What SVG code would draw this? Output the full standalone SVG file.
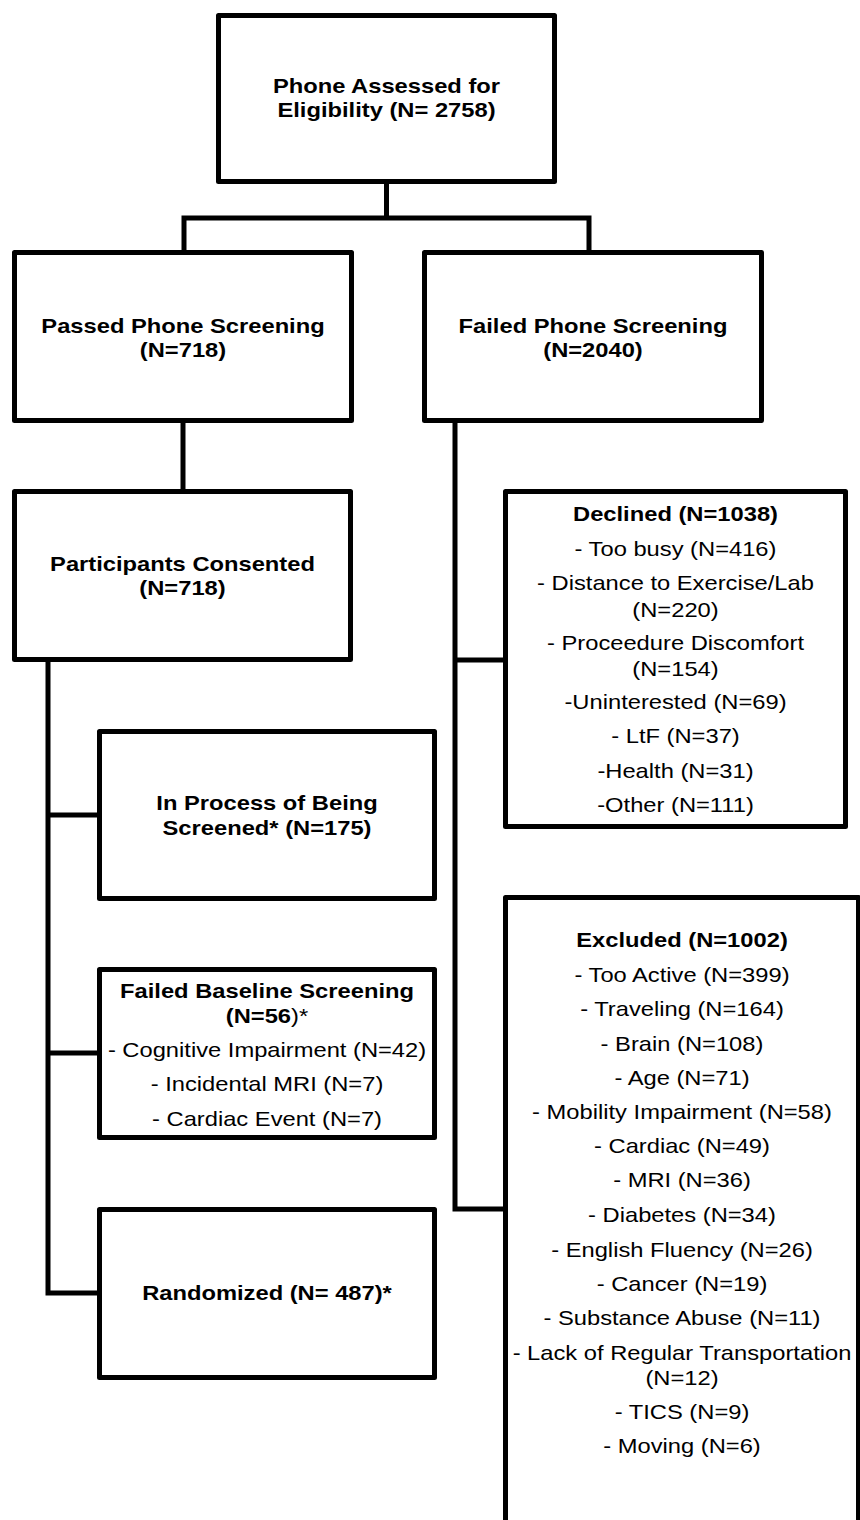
<svg xmlns="http://www.w3.org/2000/svg" width="860" height="1520" viewBox="0 0 860 1520">
<style>
.box{fill:#fff;stroke:#000;stroke-width:5;stroke-linejoin:round}
.con{fill:none;stroke:#000;stroke-width:5;stroke-linejoin:miter}
text{font-family:"Liberation Sans",Arial,sans-serif;font-size:21px;fill:#000;text-anchor:middle}
.b{font-weight:bold}
.n{font-weight:normal}
</style>
<rect width="860" height="1520" fill="#fff"/>
<g id="connectors">
<path class="con" d="M386.5,184 V218 M184,250 V218 H589 V250"/>
<path class="con" d="M183,423 V489"/>
<path class="con" d="M48,662 V1293 H97 M48,815 H97 M48,1053 H97"/>
<path class="con" d="M455,423 V1209 H503 M455,660 H503"/>
</g>
<g id="phone-assessed">
<rect class="box" x="218.5" y="15.5" width="336" height="166"/>
<text class="b" transform="translate(386.5 0) scale(1.13 1)"><tspan x="0" y="93">Phone Assessed for</tspan><tspan x="0" y="117">Eligibility (N= 2758)</tspan></text>
</g>
<g id="passed">
<rect class="box" x="14.5" y="252.5" width="337" height="168"/>
<text class="b" transform="translate(183 0) scale(1.13 1)"><tspan x="0" y="333">Passed Phone Screening</tspan><tspan x="0" y="357">(N=718)</tspan></text>
</g>
<g id="failed">
<rect class="box" x="424.5" y="252.5" width="337" height="168"/>
<text class="b" transform="translate(593 0) scale(1.13 1)"><tspan x="0" y="333">Failed Phone Screening</tspan><tspan x="0" y="357">(N=2040)</tspan></text>
</g>
<g id="consented">
<rect class="box" x="14.5" y="491.5" width="336" height="168"/>
<text class="b" transform="translate(182.5 0) scale(1.13 1)"><tspan x="0" y="571">Participants Consented</tspan><tspan x="0" y="595">(N=718)</tspan></text>
</g>
<g id="declined">
<rect class="box" x="505.5" y="491.5" width="340" height="335"/>
<text transform="translate(675.5 0) scale(1.13 1)"><tspan class="b" x="0" y="521">Declined (N=1038)</tspan><tspan x="0" y="556">- Too busy (N=416)</tspan><tspan x="0" y="590">- Distance to Exercise/Lab</tspan><tspan x="0" y="617">(N=220)</tspan><tspan x="0" y="650">- Proceedure Discomfort</tspan><tspan x="0" y="676">(N=154)</tspan><tspan x="0" y="709">-Uninterested (N=69)</tspan><tspan x="0" y="743">- LtF (N=37)</tspan><tspan x="0" y="778">-Health (N=31)</tspan><tspan x="0" y="812">-Other (N=111)</tspan></text>
</g>
<g id="in-process">
<rect class="box" x="99.5" y="731.5" width="335" height="167"/>
<text class="b" transform="translate(267 0) scale(1.13 1)"><tspan x="0" y="810">In Process of Being</tspan><tspan x="0" y="835">Screened* (N=175)</tspan></text>
</g>
<g id="failed-baseline">
<rect class="box" x="99.5" y="969.5" width="335" height="168"/>
<text transform="translate(267 0) scale(1.13 1)"><tspan class="b" x="0" y="998">Failed Baseline Screening</tspan><tspan x="0" y="1023"><tspan class="b">(N=56</tspan>)*</tspan><tspan x="0" y="1057">- Cognitive Impairment (N=42)</tspan><tspan x="0" y="1091">- Incidental MRI (N=7)</tspan><tspan x="0" y="1126">- Cardiac Event (N=7)</tspan></text>
</g>
<g id="randomized">
<rect class="box" x="99.5" y="1209.5" width="335" height="168"/>
<text class="b" transform="translate(267 0) scale(1.13 1)"><tspan x="0" y="1300">Randomized (N= 487)*</tspan></text>
</g>
<g id="excluded">
<rect class="box" x="505.5" y="897.5" width="353" height="700"/>
<text transform="translate(682 0) scale(1.13 1)"><tspan class="b" x="0" y="947">Excluded (N=1002)</tspan><tspan x="0" y="982">- Too Active (N=399)</tspan><tspan x="0" y="1016">- Traveling (N=164)</tspan><tspan x="0" y="1051">- Brain (N=108)</tspan><tspan x="0" y="1085">- Age (N=71)</tspan><tspan x="0" y="1119">- Mobility Impairment (N=58)</tspan><tspan x="0" y="1153">- Cardiac (N=49)</tspan><tspan x="0" y="1187">- MRI (N=36)</tspan><tspan x="0" y="1222">- Diabetes (N=34)</tspan><tspan x="0" y="1257">- English Fluency (N=26)</tspan><tspan x="0" y="1291">- Cancer (N=19)</tspan><tspan x="0" y="1325">- Substance Abuse (N=11)</tspan><tspan x="0" y="1360">- Lack of Regular Transportation</tspan><tspan x="0" y="1385">(N=12)</tspan><tspan x="0" y="1419">- TICS (N=9)</tspan><tspan x="0" y="1453">- Moving (N=6)</tspan></text>
</g>
</svg>
